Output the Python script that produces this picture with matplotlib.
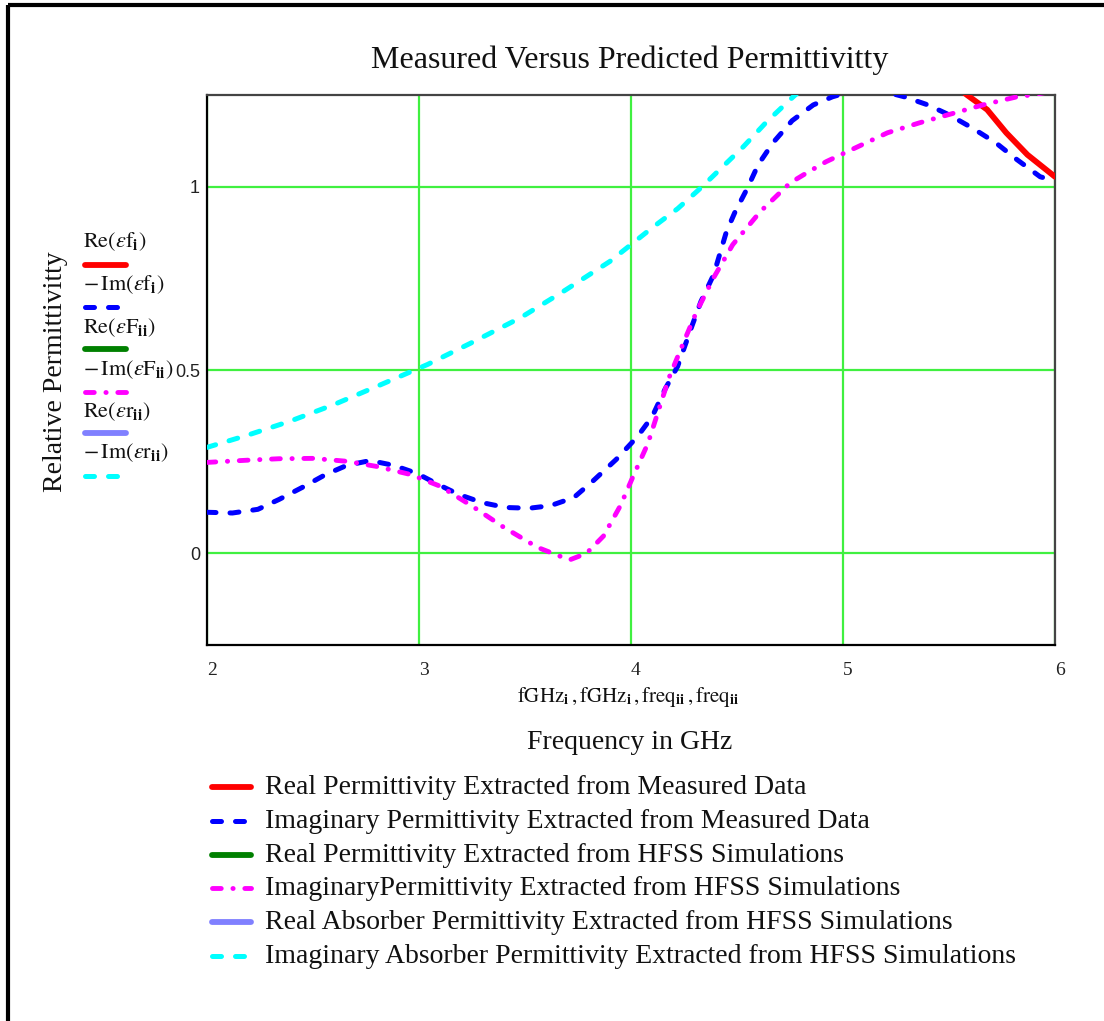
import matplotlib
matplotlib.use("Agg")
import matplotlib.pyplot as plt
from matplotlib.lines import Line2D

plt.rcParams["mathtext.fontset"] = "stix"
plt.rcParams["font.family"] = ["Liberation Serif", "DejaVu Serif"]

# ---- data -------------------------------------------------------------
# Measured data (negated imaginary part)
f_meas_im = [2.00, 2.12, 2.24, 2.34, 2.45, 2.56, 2.66, 2.77, 2.88, 2.99,
             3.10, 3.19, 3.30, 3.41, 3.52, 3.62, 3.73, 3.82, 3.93, 4.03,
             4.10, 4.16, 4.22, 4.29, 4.33, 4.39, 4.45, 4.49, 4.55, 4.60,
             4.67, 4.76, 4.86, 4.95, 5.05, 5.15, 5.29, 5.40, 5.50, 5.61,
             5.72, 5.82, 5.93, 6.00]
meas_im = [0.112, 0.110, 0.120, 0.147, 0.180, 0.215, 0.240, 0.253, 0.240, 0.218,
           0.185, 0.160, 0.138, 0.125, 0.123, 0.130, 0.152, 0.197, 0.256, 0.318,
           0.373, 0.447, 0.510, 0.624, 0.687, 0.760, 0.877, 0.930, 0.997, 1.060,
           1.120, 1.180, 1.223, 1.245, 1.262, 1.266, 1.245, 1.223, 1.196, 1.160,
           1.120, 1.074, 1.027, 1.016]

# Measured data, real part (only the part inside the plotted range)
f_meas_re = [5.50, 5.585, 5.68, 5.77, 5.87, 6.00]
meas_re = [1.29, 1.25, 1.21, 1.147, 1.087, 1.027]

# HFSS simulation (real part lies above the plotted range)
f_hfss_re = []
hfss_re = []
f_hfss_im = [2.00, 2.19, 2.34, 2.50, 2.66, 2.80, 2.96, 3.10, 3.25, 3.40,
             3.56, 3.71, 3.79, 3.87, 3.95, 4.01, 4.08, 4.18, 4.25, 4.31,
             4.39, 4.48, 4.61, 4.75, 4.83, 4.92, 5.07, 5.21, 5.36, 5.52,
             5.66, 5.82, 5.91, 6.00]
hfss_im = [0.248, 0.254, 0.258, 0.259, 0.251, 0.237, 0.215, 0.183, 0.129, 0.071,
           0.016, -0.018, 0.000, 0.047, 0.130, 0.210, 0.300, 0.480, 0.578, 0.660,
           0.752, 0.842, 0.932, 1.010, 1.038, 1.068, 1.109, 1.147, 1.174, 1.200,
           1.223, 1.245, 1.252, 1.262]

# Absorber HFSS simulation (real part lies above the plotted range)
f_abs_re = []
abs_re = []
f_abs_im = [2.00, 2.19, 2.39, 2.60, 2.82, 3.04, 3.25, 3.48, 3.68, 3.90,
            4.10, 4.22, 4.33, 4.53, 4.64, 4.75, 4.85]
abs_im = [0.289, 0.322, 0.360, 0.406, 0.460, 0.515, 0.575, 0.643, 0.714, 0.796,
          0.888, 0.940, 0.997, 1.109, 1.177, 1.237, 1.290]

x_ticks = [2, 3, 4, 5, 6]
y_ticks = [0, 0.5, 1]
y_tick_labels = ["0", "0.5", "1"]

legend_labels = [
    "Real Permittivity Extracted from Measured Data",
    "Imaginary Permittivity Extracted from Measured Data",
    "Real Permittivity Extracted from HFSS Simulations",
    "ImaginaryPermittivity Extracted from HFSS Simulations",
    "Real Absorber Permittivity Extracted from HFSS Simulations",
    "Imaginary Absorber Permittivity Extracted from HFSS Simulations",
]
trace_labels = [
    r"$\mathrm{Re}(\varepsilon\mathrm{f}_{\mathbf{i}})$",
    r"$-\,\mathrm{Im}(\varepsilon\mathrm{f}_{\mathbf{i}})$",
    r"$\mathrm{Re}(\varepsilon\mathrm{F}_{\mathbf{ii}})$",
    r"$-\,\mathrm{Im}(\varepsilon\mathrm{F}_{\mathbf{ii}})$",
    r"$\mathrm{Re}(\varepsilon\mathrm{r}_{\mathbf{ii}})$",
    r"$-\,\mathrm{Im}(\varepsilon\mathrm{r}_{\mathbf{ii}})$",
]

# ---- figure -------------------------------------------------------------
W, H = 1104, 1021
fig = plt.figure(figsize=(W / 100, H / 100), dpi=100)
fig.patch.set_facecolor("white")


def fx(x):
    return x / W


def fy(y):
    return 1 - y / H


ax = fig.add_axes([fx(207), fy(645), fx(1055) - fx(207), fy(95) - fy(645)])
ax.set_xlim(2, 6)
ax.set_ylim(-0.25, 1.25)

dash = (1.8, 2.8)
dashdot = (1.8, 2.4, 0.05, 2.4)
styles = [
    dict(color="#FF0000", lw=4.2, ls="-"),
    dict(color="#0000FF", lw=3.6, dashes=dash),
    dict(color="#008000", lw=4.2, ls="-"),
    dict(color="#FF00FF", lw=3.5, dashes=dashdot),
    dict(color="#8080FF", lw=4.2, ls="-"),
    dict(color="#00FFFF", lw=3.6, dashes=dash),
]
series = [(f_meas_re, meas_re), (f_meas_im, meas_im), (f_hfss_re, hfss_re),
          (f_hfss_im, hfss_im), (f_abs_re, abs_re), (f_abs_im, abs_im)]

for (fx_vals, yv), st in zip(series, styles):
    ax.plot(fx_vals, yv, dash_capstyle="round", solid_capstyle="round",
            zorder=3, **st)

# grid and frame
ax.set_xticks(x_ticks)
ax.set_yticks(y_ticks)
ax.grid(True, color="#40F040", lw=1.6, zorder=1)
ax.set_axisbelow(True)
for side in ("left", "bottom"):
    ax.spines[side].set_color("black")
    ax.spines[side].set_linewidth(1.6)
for side in ("top", "right"):
    ax.spines[side].set_color("#444444")
    ax.spines[side].set_linewidth(1.6)

ax.tick_params(axis="both", length=0)
ax.tick_params(axis="x", pad=12)
ax.tick_params(axis="y", pad=5)
ax.set_xticklabels([str(t) for t in x_ticks], fontsize=14,
                   fontfamily="Liberation Serif", ha="left", color="#222222")
ax.set_yticklabels(y_tick_labels, fontsize=13,
                   fontfamily="Liberation Sans", color="#222222")

# titles and axis texts
fig.text(fx(630), fy(60), "Measured Versus Predicted Permittivitty",
         ha="center", va="center", fontsize=23, color="#111111")
fig.text(fx(55), fy(372), "Relative Permittivitty", rotation=90,
         ha="center", va="center", fontsize=20, color="#111111")
fig.text(fx(628), fy(697),
         r"$\mathrm{fGHz}_{\mathbf{i}}\,,\mathrm{fGHz}_{\mathbf{i}}\,,"
         r"\mathrm{freq}_{\mathbf{ii}}\,,\mathrm{freq}_{\mathbf{ii}}$",
         ha="center", va="center", fontsize=15, color="#111111")
fig.text(fx(630), fy(742), "Frequency in GHz",
         ha="center", va="center", fontsize=20, color="#111111")

# trace labels at the left of the plot
trace_text_y = [242, 285, 328, 370, 412, 453]
trace_line_y = [265, 307, 349, 392, 433, 476]
for lab, ty, ly, st in zip(trace_labels, trace_text_y, trace_line_y, styles):
    fig.text(fx(83), fy(ty), lab, ha="left", va="center", fontsize=16,
             color="#111111")
    fig.add_artist(Line2D([fx(85), fx(126)], [fy(ly), fy(ly)],
                          transform=fig.transFigure,
                          dash_capstyle="round", solid_capstyle="round", **st))

# legend below the plot
leg_y = [787, 821, 855, 888, 922, 956]
for lab, y, st in zip(legend_labels, leg_y, styles):
    fig.add_artist(Line2D([fx(212), fx(251)], [fy(y), fy(y)],
                          transform=fig.transFigure,
                          dash_capstyle="round", solid_capstyle="round", **st))
    fig.text(fx(265), fy(y), lab, ha="left", va="center", fontsize=20,
             color="#111111")

# page frame (left and top edges)
fig.add_artist(Line2D([fx(8), fx(8)], [fy(5), fy(1021)],
                      transform=fig.transFigure, color="black", lw=3,
                      solid_capstyle="butt"))
fig.add_artist(Line2D([fx(8), fx(1104)], [fy(5), fy(5)],
                      transform=fig.transFigure, color="black", lw=3,
                      solid_capstyle="butt"))

fig.savefig("out.png", dpi=100, facecolor="white")
